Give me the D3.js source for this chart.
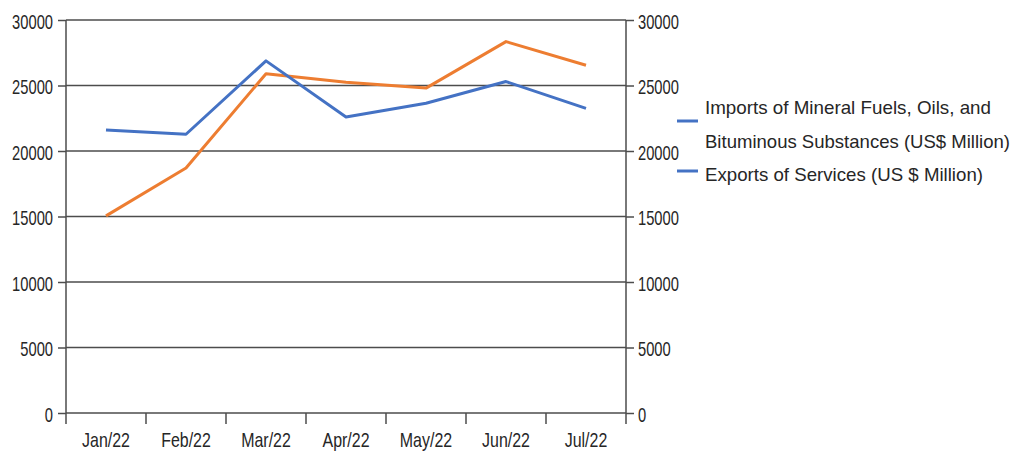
<!DOCTYPE html>
<html>
<head>
<meta charset="utf-8">
<script src="https://cdn.jsdelivr.net/npm/d3@7"></script>
<style>
  body { margin: 0; background: #fff; }
  text { font-family: "Liberation Sans", Arial, sans-serif; fill: #262626; }
</style>
</head>
<body>
<div id="chart"></div>
<script>
// data
var months = ["Jan/22", "Feb/22", "Mar/22", "Apr/22", "May/22", "Jun/22", "Jul/22"];
var importsFuels = [15050, 18700, 25900, 25250, 24800, 28350, 26550];   // orange line
var exportsServices = [21600, 21280, 26880, 22600, 23650, 25300, 23250]; // blue line
var yTicks = [0, 5000, 10000, 15000, 20000, 25000, 30000];
var legendLines = [
  ["Imports of Mineral Fuels, Oils, and", "Bituminous Substances (US$ Million)"],
  ["Exports of Services (US $ Million)"]
];

var width = 1018, height = 452;
var plot = { left: 66, right: 626, top: 20, bottom: 413 };

var svg = d3.select("#chart")
  .append("svg")
  .attr("width", width)
  .attr("height", height);

var xScale = d3.scaleBand()
  .domain(months)
  .range([plot.left, plot.right]);
var yScale = d3.scaleLinear()
  .domain([0, 30000])
  .range([plot.bottom, plot.top]);

// squeeze text horizontally, the source font is a narrow one
function squeeze(sel, k) {
  sel.each(function () {
    var w = this.getComputedTextLength();
    d3.select(this).attr("textLength", w * k).attr("lengthAdjust", "spacingAndGlyphs");
  });
}

// horizontal grid lines
svg.append("g")
  .selectAll("line")
  .data(yTicks)
  .enter().append("line")
  .attr("x1", plot.left)
  .attr("x2", plot.right)
  .attr("y1", function (d) { return yScale(d); })
  .attr("y2", function (d) { return yScale(d); })
  .attr("stroke", "#4d4d4d")
  .attr("stroke-width", 1.5);

// left axis
var yAxisL = svg.append("g")
  .attr("transform", "translate(" + plot.left + ",0)")
  .call(d3.axisLeft(yScale).tickValues(yTicks).tickFormat(d3.format("d"))
    .tickSize(8).tickSizeOuter(0).tickPadding(5));

// right axis
var yAxisR = svg.append("g")
  .attr("transform", "translate(" + plot.right + ",0)")
  .call(d3.axisRight(yScale).tickValues(yTicks).tickFormat(d3.format("d"))
    .tickSize(8).tickSizeOuter(0).tickPadding(4));

[yAxisL, yAxisR].forEach(function (ax) {
  ax.select(".domain").remove();
  ax.selectAll("line").attr("stroke", "#4d4d4d").attr("stroke-width", 1.5);
  ax.selectAll("text")
    .attr("font-size", 21)
    .attr("dy", "0.4em")
    .call(squeeze, 0.70);
});

// vertical axis lines, running a little below the x axis
[plot.left, plot.right].forEach(function (xp) {
  svg.append("line")
    .attr("x1", xp).attr("x2", xp)
    .attr("y1", plot.top).attr("y2", plot.bottom + 11)
    .attr("stroke", "#4d4d4d")
    .attr("stroke-width", 1.5);
});

// x axis: labels at band centres, ticks at band edges
var xAxis = svg.append("g")
  .attr("transform", "translate(0," + plot.bottom + ")")
  .call(d3.axisBottom(xScale).tickSize(0).tickPadding(19));
xAxis.select(".domain").remove();
xAxis.selectAll("text")
  .attr("font-size", 21)
  .call(squeeze, 0.76);

svg.append("g")
  .selectAll("line")
  .data(months.slice(1))
  .enter().append("line")
  .attr("x1", function (d) { return xScale(d); })
  .attr("x2", function (d) { return xScale(d); })
  .attr("y1", plot.bottom)
  .attr("y2", plot.bottom + 11)
  .attr("stroke", "#4d4d4d")
  .attr("stroke-width", 1.5);

// lines
var line = d3.line()
  .x(function (d, i) { return xScale(months[i]) + xScale.bandwidth() / 2; })
  .y(function (d) { return yScale(d); });

svg.append("path")
  .datum(importsFuels)
  .attr("fill", "none")
  .attr("stroke", "#ed7d31")
  .attr("stroke-width", 3)
  .attr("stroke-linejoin", "round")
  .attr("d", line);

svg.append("path")
  .datum(exportsServices)
  .attr("fill", "none")
  .attr("stroke", "#4472c4")
  .attr("stroke-width", 3)
  .attr("stroke-linejoin", "round")
  .attr("d", line);

// legend (both markers are blue in the source)
var legendMarkY = [121, 171];
var legendBase = [[114, 148], [181]];
var legendLen = [[286, 305], [278]];

legendLines.forEach(function (lines, i) {
  svg.append("line")
    .attr("x1", 677).attr("x2", 698)
    .attr("y1", legendMarkY[i]).attr("y2", legendMarkY[i])
    .attr("stroke", "#4472c4")
    .attr("stroke-width", 3);
  lines.forEach(function (t, j) {
    svg.append("text")
      .attr("x", 705)
      .attr("y", legendBase[i][j])
      .attr("font-size", 19)
      .attr("textLength", legendLen[i][j])
      .attr("lengthAdjust", "spacingAndGlyphs")
      .text(t);
  });
});
</script>
</body>
</html>
